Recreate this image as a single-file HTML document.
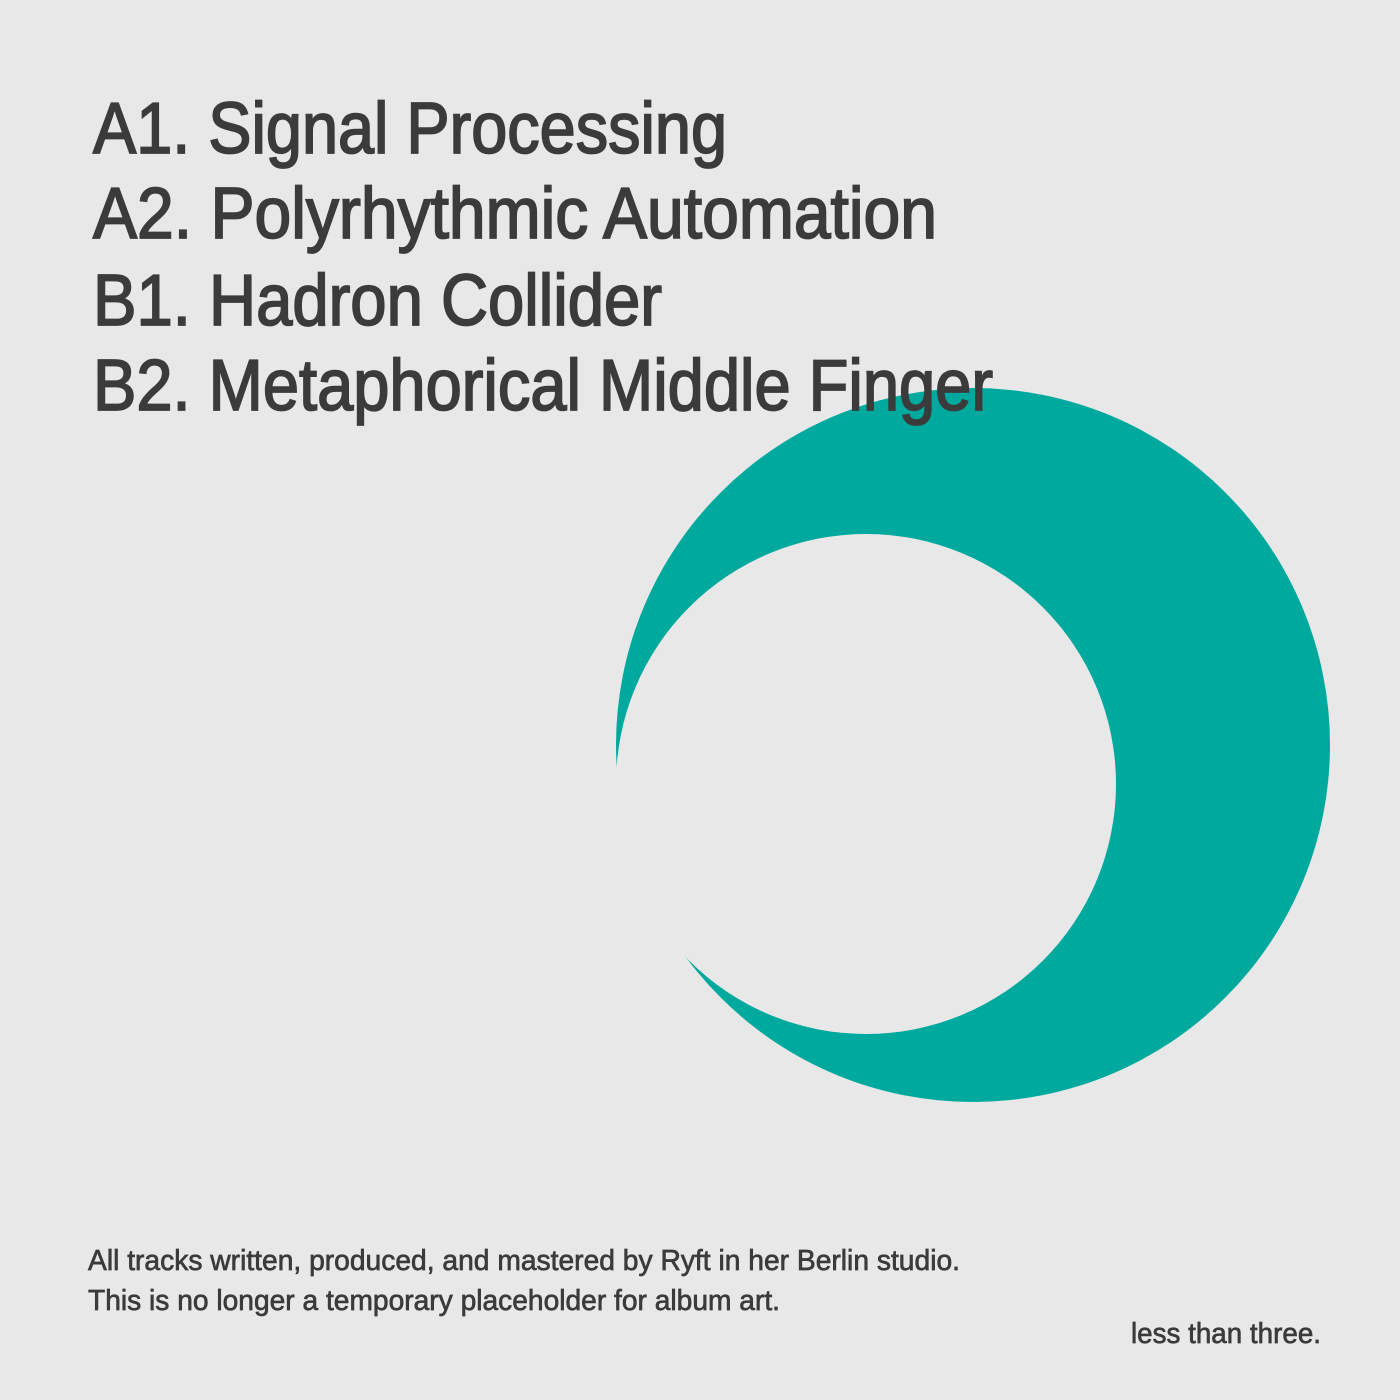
<!DOCTYPE html>
<html><head><meta charset="utf-8"><style>
html,body{margin:0;padding:0;background:#e8e8e8;}
svg{display:block;}
text{font-family:"Liberation Sans",sans-serif;fill:#3b3b3b;stroke:#3b3b3b;}
</style></head><body>
<svg width="1400" height="1400" viewBox="0 0 1400 1400" xmlns="http://www.w3.org/2000/svg">
<rect width="1400" height="1400" fill="#e8e8e8"/>
<circle cx="973" cy="745" r="357" fill="#00a99d"/>
<circle cx="866" cy="784" r="250" fill="#e8e8e8"/>
<g font-size="72" stroke-width="1.8">
<text x="93" y="153" textLength="634" lengthAdjust="spacingAndGlyphs">A1.  Signal Processing</text>
<text x="93" y="238" textLength="844" lengthAdjust="spacingAndGlyphs">A2. Polyrhythmic Automation</text>
<text x="93" y="325" textLength="569" lengthAdjust="spacingAndGlyphs">B1.  Hadron Collider</text>
<text x="93" y="410" textLength="900" lengthAdjust="spacingAndGlyphs">B2. Metaphorical Middle Finger</text>
</g>
<g font-size="29" stroke-width="0.7">
<text x="88" y="1270" textLength="872" lengthAdjust="spacingAndGlyphs">All tracks written, produced, and mastered by Ryft in her Berlin studio.</text>
<text x="88" y="1310" textLength="692" lengthAdjust="spacingAndGlyphs">This is no longer a temporary placeholder for album art.</text>
<text x="1131" y="1343" textLength="190" lengthAdjust="spacingAndGlyphs">less than three.</text>
</g>
</svg>
</body></html>
